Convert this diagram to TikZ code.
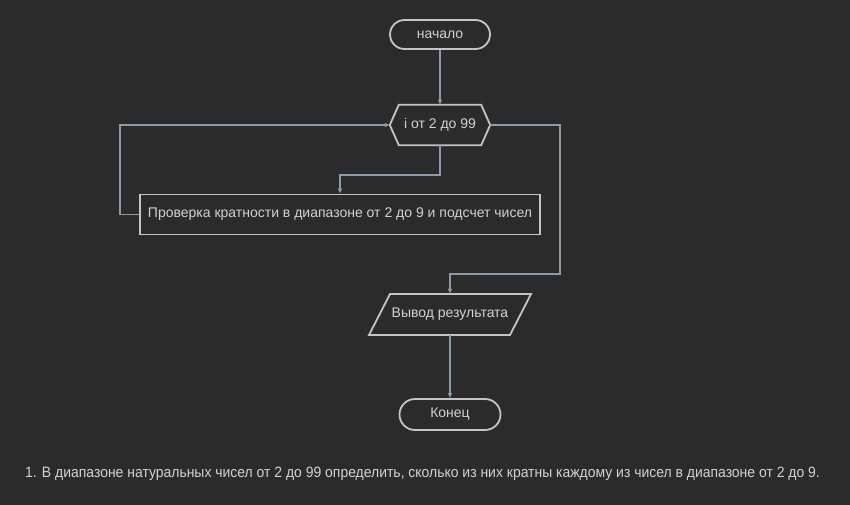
\documentclass[tikz,border=0pt]{standalone}
\usepackage{fontspec}
\setmainfont{Liberation Sans}
\usetikzlibrary{arrows.meta,calc}
\definecolor{bg}{HTML}{2B2B2B}
\definecolor{nodeline}{HTML}{C4C4C4}
\definecolor{conn}{HTML}{8C9AAA}
\definecolor{txt}{HTML}{D2D2D2}
\begin{document}
\begin{tikzpicture}[x=1pt,y=-1pt,
  base/.style={font=\fontsize{14}{16}\selectfont, text=txt, inner sep=0pt},
  term/.style={base, draw=nodeline, line width=1.8pt, rounded corners=14.5pt, minimum width=100pt, minimum height=29pt},
  procbox/.style={base, draw=nodeline, line width=1.8pt, minimum width=400pt, minimum height=40pt},
  shapeline/.style={draw=nodeline, line width=1.8pt, line join=miter},
  link/.style={draw=conn, line width=1.5pt, -{Latex[length=5pt,width=5pt]}},
]
\useasboundingbox[fill=bg] (0,0) rectangle (850,505);

\node[term] (start) at (440,34.5) {начало};
\node[base, minimum width=100pt, minimum height=40pt] (loop) at (440,125) {i от 2 до 99};
\path[shapeline] (loop.west) -- ($(loop.north west)+(9,0)$) -- ($(loop.north east)+(-9,0)$)
  -- (loop.east) -- ($(loop.south east)+(-9,0)$) -- ($(loop.south west)+(9,0)$) -- cycle;
\node[procbox] (check) at (340,214.5) {Проверка кратности в диапазоне от 2 до 9 и подсчет чисел};
\node[base, minimum height=41pt] (out) at (450,314.5) {Вывод результата};
\path[shapeline] ($(out.center)+(-81,20.5)$) -- ($(out.center)+(-60,-20.5)$)
  -- ($(out.center)+(81,-20.5)$) -- ($(out.center)+(60,20.5)$) -- cycle;
\node[term, minimum width=101pt, minimum height=31pt, rounded corners=15.5pt] (end) at (450,414.5) {Конец};

\coordinate (c1) at (440,175);
\coordinate (c2) at (340,175);
\coordinate (l1) at (120,214.5);
\coordinate (l2) at (120,125);
\coordinate (r1) at (560,125);
\coordinate (r2) at (560,274);
\coordinate (r3) at (450,274);

\path[link] (start) -- (loop);
\path[link] (loop.south) -- (c1) -- (c2) -- (check.north);
\path[link] (check.west) -- (l1) -- (l2) -- (loop.west);
\path[link] (loop.east) -- (r1) -- (r2) -- (r3) -- (out.north);
\path[link] (out.south) -- (end.north);

\node[base, anchor=west] (task) at (25,473.5) {\scalebox{0.93}[1]{\fontsize{15}{17}\selectfont 1. В диапазоне натуральных чисел от 2 до 99 определить, сколько из них кратны каждому из чисел в диапазоне от 2 до 9.}};
\end{tikzpicture}
\end{document}
